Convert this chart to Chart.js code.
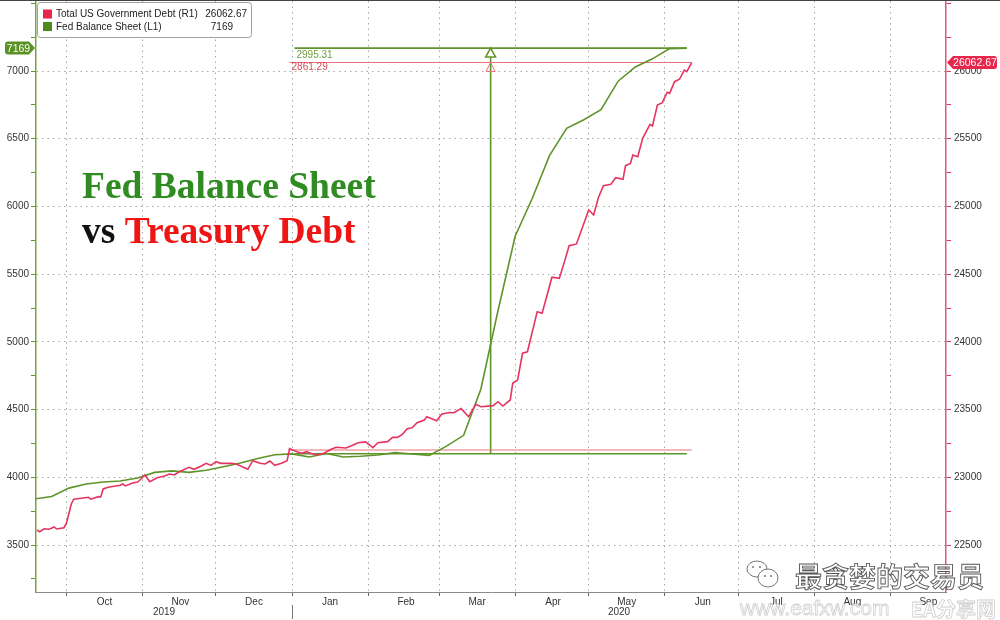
<!DOCTYPE html>
<html>
<head>
<meta charset="utf-8">
<script src="https://cdn.jsdelivr.net/npm/chart.js@4.4.0/dist/chart.umd.min.js"></script>
<style>
  html, body { margin: 0; padding: 0; background: #fff; }
  canvas { display: block; }
</style>
</head>
<body>
<canvas id="chart" width="1000" height="620"></canvas>
<script>
// Fed balance sheet, weekly ($bn, left axis)
const fedDates = ['2019-09-18','2019-09-25','2019-10-02','2019-10-09','2019-10-16','2019-10-23','2019-10-30',
  '2019-11-06','2019-11-13','2019-11-20','2019-11-27','2019-12-04','2019-12-11','2019-12-18','2019-12-25',
  '2020-01-01','2020-01-08','2020-01-15','2020-01-22','2020-01-29','2020-02-05','2020-02-12','2020-02-19',
  '2020-02-26','2020-03-04','2020-03-11','2020-03-18','2020-03-25','2020-04-01','2020-04-08','2020-04-15',
  '2020-04-22','2020-04-29','2020-05-06','2020-05-13','2020-05-20','2020-05-27','2020-06-03','2020-06-10'];
const fedValues = [3840,3858,3920,3950,3965,3973,3995,4036,4047,4036,4052,4078,4105,4139,4166,4173,4150,
  4175,4150,4155,4165,4182,4172,4162,4230,4310,4650,5230,5780,6060,6375,6577,6640,6715,6925,7030,7090,7165,7169];

// Total US government debt ($bn, right axis)
const debtDates = ['2019-09-19','2019-09-20','2019-09-22','2019-09-24','2019-09-26','2019-09-27','2019-09-30',
  '2019-10-01','2019-10-03','2019-10-04','2019-10-10','2019-10-11','2019-10-14','2019-10-15','2019-10-16',
  '2019-10-18','2019-10-21','2019-10-23','2019-10-24','2019-10-25','2019-10-28','2019-10-30','2019-10-31',
  '2019-11-02','2019-11-04','2019-11-07','2019-11-10','2019-11-12','2019-11-14','2019-11-16','2019-11-20',
  '2019-11-22','2019-11-25','2019-11-27','2019-11-29','2019-12-01','2019-12-03','2019-12-07','2019-12-09',
  '2019-12-14','2019-12-16','2019-12-19','2019-12-21','2019-12-23','2019-12-25','2019-12-28','2019-12-30',
  '2019-12-31','2020-01-03','2020-01-05','2020-01-07','2020-01-08','2020-01-11','2020-01-14','2020-01-17',
  '2020-01-19','2020-01-23','2020-01-25','2020-01-28','2020-01-31','2020-02-03','2020-02-05','2020-02-09',
  '2020-02-11','2020-02-13','2020-02-15','2020-02-17','2020-02-19','2020-02-21','2020-02-24','2020-02-25',
  '2020-02-29','2020-03-02','2020-03-05','2020-03-07','2020-03-10','2020-03-13','2020-03-16','2020-03-18',
  '2020-03-23','2020-03-25','2020-03-27','2020-03-30','2020-03-31','2020-04-02','2020-04-04','2020-04-06',
  '2020-04-10','2020-04-12','2020-04-16','2020-04-19','2020-04-21','2020-04-23','2020-04-26','2020-05-01',
  '2020-05-03','2020-05-05','2020-05-07','2020-05-10','2020-05-12','2020-05-15','2020-05-16','2020-05-18',
  '2020-05-19','2020-05-21','2020-05-23','2020-05-26','2020-05-27','2020-05-29','2020-05-31','2020-06-02',
  '2020-06-03','2020-06-05','2020-06-07','2020-06-09','2020-06-10','2020-06-12'];
const debtValues = [22611,22598,22620,22616,22633,22618,22628,22660,22803,22838,22852,22838,22857,22855,22914,
  22926,22936,22941,22950,22936,22958,22965,22980,23017,22968,22997,23010,23024,23017,23041,23074,23059,23083,
  23103,23088,23115,23103,23103,23100,23059,23123,23103,23098,23120,23088,23105,23123,23211,23189,23177,23189,
  23182,23165,23177,23207,23222,23216,23231,23255,23261,23219,23255,23263,23295,23295,23317,23359,23366,23403,
  23423,23447,23418,23465,23478,23477,23507,23447,23539,23521,23529,23558,23526,23571,23694,23718,23916,23927,
  24223,24211,24477,24469,24585,24710,24723,24974,24937,25068,25153,25163,25212,25200,25301,25318,25380,25367,
  25503,25606,25594,25749,25766,25843,25835,25921,25939,26007,25995,26062.67];

const monthStarts = ['2019-10-01','2019-11-01','2019-12-01','2020-01-01','2020-02-01','2020-03-01',
  '2020-04-01','2020-05-01','2020-06-01','2020-07-01','2020-08-01','2020-09-01'];
const monthLabels = ['Oct','Nov','Dec','Jan','Feb','Mar','Apr','May','Jun','Jul','Aug','Sep'];
const yearLabels = ['2019','2020'];
const leftLabels = [3500,4000,4500,5000,5500,6000,6500,7000];
const rightLabels = [22500,23000,23500,24000,24500,25000,25500,26000];

// measured change since the start of the year
const fedLow = 4173.69, debtLow = 23201.38;
const fedSpanDates = ['2020-01-02','2020-06-10'];
const debtSpanDates = ['2019-12-31','2020-06-12'];
const arrowDate = '2020-03-22';

const GREEN = '#5f9429', RED = '#e63460', GRID = '#a6a6a6';
const origin = Date.UTC(2019, 9, 1);
const day = s => { const p = s.split('-').map(Number); return (Date.UTC(p[0], p[1] - 1, p[2]) - origin) / 86400000; };
const pts = (dates, vals) => dates.map((d, i) => ({x: day(d), y: vals[i]}));
const fedLast = fedValues[fedValues.length - 1];
const debtLast = debtValues[debtValues.length - 1];

Chart.defaults.font.family = '"Liberation Sans", Arial, sans-serif';
Chart.defaults.font.size = 10;
Chart.defaults.color = '#333';

const minorTicks = s => {
  s.ticks = [];
  for (let v = Math.ceil(s.min / 250) * 250; v <= s.max; v += 250) s.ticks.push({value: v});
};
const fixBox = (w, h) => s => {
  if (w !== null) s.width = w;
  if (h !== null) s.height = h;
  s.paddingTop = 0; s.paddingBottom = 0; s.paddingLeft = 0; s.paddingRight = 0;
};

const extras = {
  id: 'extras',
  beforeDraw(chart) {
    const c = chart.ctx;
    c.save();
    c.fillStyle = '#fff';
    c.fillRect(0, 0, chart.width, chart.height);
    c.restore();
  },
  afterDatasetsDraw(chart) {
    const c = chart.ctx, {x, y, y1} = chart.scales;
    const xa = x.getPixelForValue(day(arrowDate));
    const yg = y.getPixelForValue(fedLast), yr = y1.getPixelForValue(debtLast);
    c.save();
    // red hollow head
    c.strokeStyle = '#e8717e'; c.lineWidth = 1;
    c.beginPath(); c.moveTo(xa, yr); c.lineTo(xa + 4.5, yr + 9); c.lineTo(xa - 4.5, yr + 9); c.closePath(); c.stroke();
    // green hollow head
    c.fillStyle = '#fff'; c.strokeStyle = GREEN; c.lineWidth = 1.5;
    c.beginPath(); c.moveTo(xa, yg); c.lineTo(xa + 5, yg + 9); c.lineTo(xa - 5, yg + 9); c.closePath(); c.fill(); c.stroke();
    c.font = '10px "Liberation Sans", Arial, sans-serif';
    c.textBaseline = 'middle'; c.textAlign = 'left';
    c.fillStyle = '#6f9c3e';
    c.fillText((fedLast - fedLow).toFixed(2), x.getPixelForValue(day(fedSpanDates[0])) + 2, yg + 7.5);
    c.fillStyle = '#dd4a58';
    c.fillText((debtLast - debtLow).toFixed(2), x.getPixelForValue(day(debtSpanDates[0])) + 2, yr + 5);
    c.restore();
  },
  afterDraw(chart) {
    const c = chart.ctx, {x, y, y1} = chart.scales;
    c.save();
    // top frame line
    c.strokeStyle = '#444'; c.lineWidth = 1;
    c.beginPath(); c.moveTo(0, 0.5); c.lineTo(1000, 0.5); c.stroke();

    // year labels, centred on the visible part of each year
    const jan = x.getPixelForValue(day('2020-01-01'));
    c.font = '10px "Liberation Sans", Arial, sans-serif';
    c.fillStyle = '#333'; c.textAlign = 'center'; c.textBaseline = 'middle';
    c.fillText(yearLabels[0], (x.left + jan) / 2, 612);
    c.fillText(yearLabels[1], (jan + x.right) / 2, 612);
    c.strokeStyle = '#777';
    c.beginPath(); c.moveTo(Math.round(jan) + 0.5, 605); c.lineTo(Math.round(jan) + 0.5, 619); c.stroke();

    // big title
    c.textAlign = 'left'; c.textBaseline = 'alphabetic';
    c.font = 'bold 37.5px "Liberation Serif", "Times New Roman", serif';
    c.fillStyle = '#2f8b22';
    c.fillText('Fed Balance Sheet', 82, 198);
    c.fillStyle = '#111';
    c.fillText('vs', 82, 243);
    const w = c.measureText('vs ').width;
    c.fillStyle = '#ee1515';
    c.fillText('Treasury Debt', 82 + w, 243);

    // legend box
    c.fillStyle = '#fff'; c.strokeStyle = '#a0a0a0'; c.lineWidth = 1;
    c.beginPath(); c.roundRect(37.5, 2.5, 214, 35, 3); c.fill(); c.stroke();
    c.fillStyle = '#e8254b'; c.fillRect(43, 9.5, 9, 9);
    c.fillStyle = '#4f8a1b'; c.fillRect(43, 22, 9, 9);
    c.font = '10px "Liberation Sans", Arial, sans-serif';
    c.fillStyle = '#222'; c.textBaseline = 'middle';
    c.fillText(chart.data.datasets[0].label, 56, 14.5);
    c.fillText(chart.data.datasets[1].label, 56, 27);
    c.textAlign = 'right';
    c.fillText(debtLast.toFixed(2), 247, 14.5);
    c.fillText(String(fedLast), 233, 27);

    // last value tags
    const yg = y.getPixelForValue(fedLast);
    c.fillStyle = '#5a9124';
    c.beginPath();
    c.moveTo(8, yg - 6.5); c.lineTo(29, yg - 6.5); c.lineTo(35, yg); c.lineTo(29, yg + 6.5); c.lineTo(8, yg + 6.5);
    c.arcTo(5, yg + 6.5, 5, yg, 3); c.arcTo(5, yg - 6.5, 8, yg - 6.5, 3); c.closePath(); c.fill();
    c.fillStyle = '#fff'; c.textAlign = 'center';
    c.font = '10.5px "Liberation Sans", Arial, sans-serif';
    c.fillText(String(fedLast), 18.5, yg + 0.5);

    const yr = y1.getPixelForValue(debtLast);
    c.fillStyle = '#e8254b';
    c.beginPath();
    c.moveTo(947, yr); c.lineTo(953, yr - 6.5); c.lineTo(994, yr - 6.5);
    c.arcTo(997, yr - 6.5, 997, yr, 3); c.arcTo(997, yr + 6.5, 994, yr + 6.5, 3);
    c.lineTo(953, yr + 6.5); c.closePath(); c.fill();
    c.fillStyle = '#fff';
    c.fillText(debtLast.toFixed(2), 975, yr + 0.5);

    // watermark
    c.strokeStyle = '#777'; c.lineWidth = 1; c.fillStyle = 'rgba(255,255,255,0.92)';
    c.beginPath(); c.ellipse(757, 569, 10, 8, 0, 0, Math.PI * 2); c.fill(); c.stroke();
    c.beginPath(); c.ellipse(768, 578, 10, 9, 0, 0, Math.PI * 2); c.fill(); c.stroke();
    c.fillStyle = '#777';
    [[753, 567], [760, 567], [765, 576], [771, 576]].forEach(p => { c.beginPath(); c.arc(p[0], p[1], 1, 0, Math.PI * 2); c.fill(); });
    c.textAlign = 'left'; c.textBaseline = 'middle';
    c.font = 'bold 27px "Noto Sans CJK SC", sans-serif';
    c.fillStyle = 'rgba(255,255,255,0.95)'; c.strokeStyle = '#555'; c.lineWidth = 0.9;
    c.fillText('最贪婪的交易员', 795, 577); c.strokeText('最贪婪的交易员', 795, 577);
    c.strokeStyle = '#cfcfcf'; c.lineWidth = 0.8;
    c.font = '21px "Liberation Sans", Arial, sans-serif';
    c.fillText('www.eafxw.com', 740, 609); c.strokeText('www.eafxw.com', 740, 609);
    c.font = 'bold 20px "Noto Sans CJK SC", sans-serif';
    c.fillText('EA分享网', 911, 609); c.strokeText('EA分享网', 911, 609);
    c.restore();
  }
};

const span = (dates, v, axis, color, width) => ({
  data: [{x: day(dates[0]), y: v}, {x: day(dates[1]), y: v}],
  yAxisID: axis, borderColor: color, borderWidth: width, pointRadius: 0, order: 3
});

new Chart(document.getElementById('chart'), {
  type: 'line',
  data: {
    datasets: [
      {label: 'Total US Government Debt (R1)', data: pts(debtDates, debtValues), yAxisID: 'y1',
        borderColor: RED, borderWidth: 1.6, pointRadius: 0, tension: 0, order: 1},
      {label: 'Fed Balance Sheet (L1)', data: pts(fedDates, fedValues), yAxisID: 'y',
        borderColor: GREEN, borderWidth: 1.6, pointRadius: 0, tension: 0, order: 2},
      span(fedSpanDates, fedLast, 'y', GREEN, 1.6),
      span(fedSpanDates, fedLow, 'y', GREEN, 1.6),
      span(debtSpanDates, debtLast, 'y1', '#e8717e', 1.1),
      span(debtSpanDates, debtLow, 'y1', '#e8717e', 1.1),
      {data: [{x: day(arrowDate), y: fedLow}, {x: day(arrowDate), y: fedLast}], yAxisID: 'y',
        borderColor: GREEN, borderWidth: 1.6, pointRadius: 0, order: 3}
    ]
  },
  options: {
    responsive: false,
    animation: false,
    devicePixelRatio: 1,
    layout: {autoPadding: false, padding: {top: 1, left: 0, right: 0, bottom: 0}},
    plugins: {legend: {display: false}, tooltip: {enabled: false}},
    scales: {
      x: {
        type: 'linear', min: -12.4, max: 358.7,
        afterBuildTicks: s => { s.ticks = monthStarts.map(m => ({value: day(m)})); },
        afterFit: fixBox(null, 28),
        ticks: {callback: (v, i) => monthLabels[i], autoSkip: false, maxRotation: 0, labelOffset: 38, padding: 0},
        grid: {color: GRID, tickColor: '#666', tickLength: 4, lineWidth: 1, tickBorderDash: []},
        border: {color: '#8a8a8a', width: 1, dash: [1.5, 4]}
      },
      y: {
        position: 'left', min: 3152.96, max: 7516.9,
        afterBuildTicks: minorTicks,
        afterFit: fixBox(36, null),
        ticks: {callback: v => leftLabels.includes(v) ? String(v) : '', autoSkip: false, padding: 2},
        grid: {color: ctx => (ctx.tick && leftLabels.includes(ctx.tick.value)) ? GRID : 'rgba(0,0,0,0)',
          tickColor: GREEN, tickLength: 5, lineWidth: 1, tickBorderDash: []},
        border: {color: '#7aa23c', width: 1.5, dash: [1.5, 4]}
      },
      y1: {
        position: 'right', min: 22152.96, max: 26516.9,
        afterBuildTicks: minorTicks,
        afterFit: fixBox(54, null),
        ticks: {callback: v => rightLabels.includes(v) ? String(v) : '', autoSkip: false, padding: 3},
        grid: {drawOnChartArea: false, tickColor: RED, tickLength: 5},
        border: {color: '#e4557a', width: 1.5}
      }
    }
  },
  plugins: [extras]
});
</script>
</body>
</html>
